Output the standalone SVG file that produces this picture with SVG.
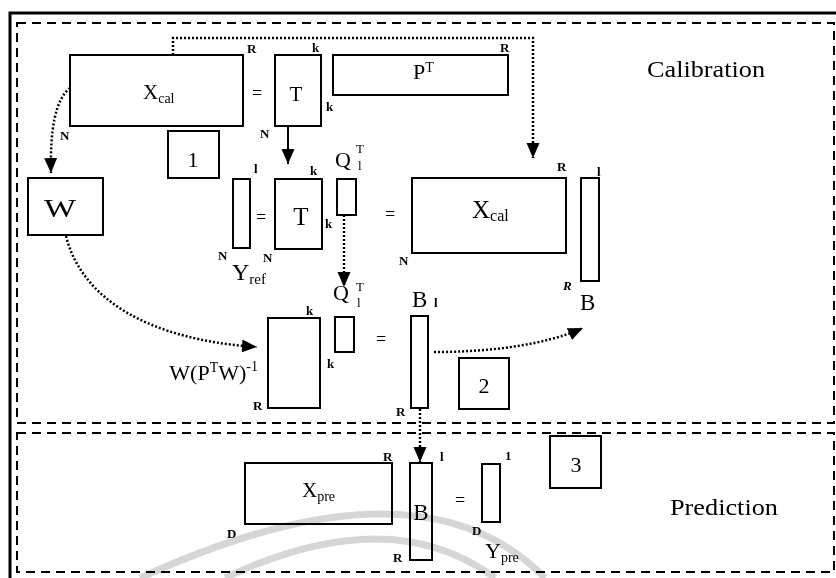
<svg xmlns="http://www.w3.org/2000/svg" width="836" height="578" viewBox="0 0 836 578" font-family="'Liberation Serif', 'DejaVu Serif', serif">
<style>
text{font-family:'Liberation Serif','DejaVu Serif',serif;fill:#000}
.box{fill:#fff;stroke:#000;stroke-width:2}
.frame{fill:none;stroke:#000;stroke-width:3}
.dash{fill:none;stroke:#000;stroke-width:2;stroke-dasharray:9 6}
.dot{fill:none;stroke:#000;stroke-width:2.5;stroke-dasharray:2 2}
.solid{fill:none;stroke:#000;stroke-width:2}
.wm{fill:none;stroke:#d6d6d6;stroke-width:7;mix-blend-mode:multiply}
.sm{font-size:13px;font-weight:bold}
.eq{font-size:18px}
.num{font-size:22px}
</style>
<defs>
<marker id="ah" markerWidth="16" markerHeight="14" refX="15" refY="6.5" orient="auto" markerUnits="userSpaceOnUse">
<path d="M0,0 L15,6.5 L0,13 z" fill="#000"/>
</marker>
</defs>
<rect width="836" height="578" fill="#fff"/>
<g id="frames">
<path class="frame" d="M10,578 V13 H836"/>
<rect class="dash" x="17" y="23" width="817" height="400"/>
<rect class="dash" x="17" y="433" width="817" height="139"/>
<text x="647" y="77" font-size="23" textLength="118" lengthAdjust="spacingAndGlyphs">Calibration</text>
<text x="670" y="515" font-size="23" textLength="108" lengthAdjust="spacingAndGlyphs">Prediction</text>
</g>
<g id="connectors">
<path class="dot" d="M173,55 V38 H533 V158" marker-end="url(#ah)"/>
<path class="dot" d="M70,88 C55,100 50,130 51,173" marker-end="url(#ah)"/>
<path class="solid" d="M288,126 V164" marker-end="url(#ah)"/>
<path class="dot" d="M344,215 V287" marker-end="url(#ah)"/>
<path class="dot" d="M66,236 C82,300 150,340 257,347" marker-end="url(#ah)"/>
<path class="dot" d="M434,352 C490,352 545,345 583,328" marker-end="url(#ah)"/>
<path class="dot" d="M420,409 V462" marker-end="url(#ah)"/>
</g>
<g id="xcal1">
<rect class="box" x="70" y="55" width="173" height="71"/>
<text x="143" y="99"><tspan font-size="21">X</tspan><tspan font-size="14" dy="4">cal</tspan></text>
<text class="sm" x="247" y="53">R</text>
<text class="sm" x="60" y="140">N</text>
</g>
<text class="eq" x="257" y="99" text-anchor="middle">=</text>
<g id="t1">
<rect class="box" x="275" y="55" width="46" height="71"/>
<text x="296" y="101" font-size="21" text-anchor="middle">T</text>
<text class="sm" x="312" y="52">k</text>
<text class="sm" x="326" y="111">k</text>
<text class="sm" x="260" y="138">N</text>
</g>
<g id="pt">
<rect class="box" x="333" y="55" width="175" height="40"/>
<text x="413" y="79"><tspan font-size="22">P</tspan><tspan font-size="14" dy="-7">T</tspan></text>
<text class="sm" x="500" y="52">R</text>
</g>
<g id="step1">
<rect class="box" x="168" y="131" width="51" height="47"/>
<text class="num" x="193" y="167" text-anchor="middle">1</text>
</g>
<g id="w">
<rect class="box" x="28" y="178" width="75" height="57"/>
<text x="44" y="217" font-size="26" textLength="32" lengthAdjust="spacingAndGlyphs">W</text>
</g>
<g id="yref">
<rect class="box" x="233" y="179" width="17" height="69"/>
<text class="sm" x="254" y="173">l</text>
<text class="sm" x="218" y="260">N</text>
<text x="232" y="280"><tspan font-size="24">Y</tspan><tspan font-size="15" dy="4">ref</tspan></text>
</g>
<text class="eq" x="261" y="223" text-anchor="middle">=</text>
<g id="t2">
<rect class="box" x="275" y="179" width="47" height="70"/>
<text x="301" y="225" font-size="25" text-anchor="middle">T</text>
<text class="sm" x="310" y="175">k</text>
<text class="sm" x="325" y="228">k</text>
<text class="sm" x="263" y="262">N</text>
</g>
<g id="q1">
<rect class="box" x="337" y="179" width="19" height="36"/>
<text><tspan x="335" y="167" font-size="22">Q</tspan><tspan x="356" y="153" font-size="13">T</tspan><tspan x="358" y="170" font-size="13">l</tspan></text>
</g>
<text class="eq" x="390" y="220" text-anchor="middle">=</text>
<g id="xcal2">
<rect class="box" x="412" y="178" width="154" height="75"/>
<text x="472" y="218"><tspan font-size="25">X</tspan><tspan font-size="16" dy="3">cal</tspan></text>
<text class="sm" x="557" y="171">R</text>
<text class="sm" x="399" y="265">N</text>
</g>
<g id="bcal">
<rect class="box" x="581" y="178" width="18" height="103"/>
<text class="sm" x="597" y="176">l</text>
<text class="sm" x="563" y="290" font-style="italic">R</text>
<text x="580" y="310" font-size="23">B</text>
</g>
<g id="wptw">
<rect class="box" x="268" y="318" width="52" height="90"/>
<text x="258" y="380" text-anchor="end"><tspan font-size="22">W(P</tspan><tspan font-size="14" dy="-8">T</tspan><tspan font-size="22" dy="8">W)</tspan><tspan font-size="14" dy="-9">-1</tspan></text>
<text class="sm" x="306" y="315">k</text>
<text class="sm" x="327" y="368">k</text>
<text class="sm" x="253" y="410">R</text>
</g>
<g id="q2">
<rect class="box" x="335" y="317" width="19" height="35"/>
<text><tspan x="333" y="300" font-size="22">Q</tspan><tspan x="356" y="291" font-size="13">T</tspan><tspan x="357" y="307" font-size="13">l</tspan></text>
</g>
<text class="eq" x="381" y="345" text-anchor="middle">=</text>
<g id="bl">
<rect class="box" x="411" y="316" width="17" height="92"/>
<text x="412" y="307" font-size="23">B</text>
<text class="sm" x="434" y="307">l</text>
<text class="sm" x="396" y="416">R</text>
</g>
<g id="step2">
<rect class="box" x="459" y="358" width="50" height="51"/>
<text class="num" x="484" y="393" text-anchor="middle">2</text>
</g>
<g id="xpre">
<rect class="box" x="245" y="463" width="147" height="61"/>
<text x="302" y="497"><tspan font-size="21">X</tspan><tspan font-size="14" dy="4">pre</tspan></text>
<text class="sm" x="383" y="461">R</text>
<text class="sm" x="227" y="538">D</text>
</g>
<g id="bpre">
<rect class="box" x="410" y="463" width="22" height="97"/>
<text x="421" y="520" font-size="23" text-anchor="middle">B</text>
<text class="sm" x="440" y="461">l</text>
<text class="sm" x="393" y="562">R</text>
</g>
<text class="eq" x="460" y="506" text-anchor="middle">=</text>
<g id="ypre">
<rect class="box" x="482" y="464" width="18" height="58"/>
<text class="sm" x="505" y="460">1</text>
<text class="sm" x="472" y="535">D</text>
<text x="485" y="558"><tspan font-size="22">Y</tspan><tspan font-size="14" dy="4">pre</tspan></text>
</g>
<g id="step3">
<rect class="box" x="550" y="436" width="51" height="52"/>
<text class="num" x="576" y="472" text-anchor="middle">3</text>
</g>
<g id="watermark">
<path class="wm" d="M140,578 Q420,450 545,578"/>
<path class="wm" d="M225,578 Q390,500 495,578"/>
</g>
</svg>
